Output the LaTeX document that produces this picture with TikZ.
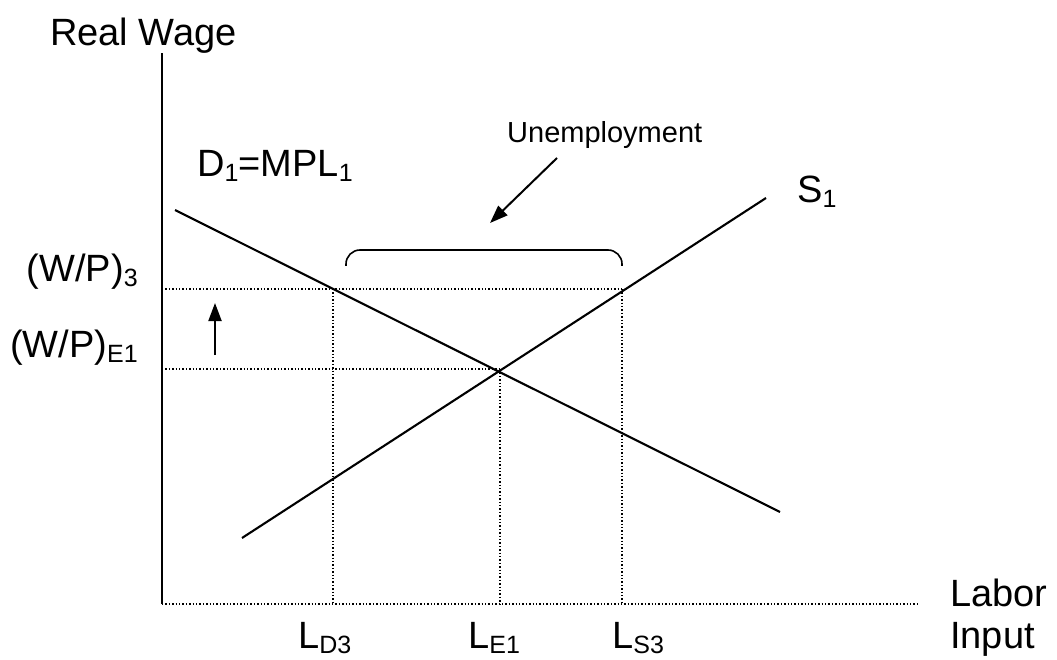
\documentclass[tikz,border=0pt]{standalone}
\usepackage{fontspec}
\setmainfont{Liberation Sans}
\usetikzlibrary{arrows.meta}
\newcommand{\lsub}[1]{\raisebox{-5pt}{\fontsize{25}{25}\selectfont #1}}

\begin{document}
\begin{tikzpicture}[
    x=1pt,
    y=-1pt,
    every node/.style={inner sep=0pt},
    axislabel/.style={font=\fontsize{38}{44}\selectfont},
    smalllabel/.style={font=\fontsize{29}{34}\selectfont},
    curve/.style={line width=2.1pt},
    guide/.style={dotted, line width=1.4pt},
    pointer/.style={-{Triangle[length=18pt,width=13pt]}, line width=2pt}
  ]
    \useasboundingbox (0,0) rectangle (1057,660);

    % Axes
    \coordinate (origin) at (162,604);
    \coordinate (ytop) at (162,53);
    \coordinate (xend) at (920,604);
    \draw[curve] (origin) -- (ytop);
    \draw[guide] (origin) -- (xend);

    % Demand and supply
    \coordinate (dstart) at (175,210);
    \coordinate (dend) at (780,512);
    \coordinate (sstart) at (242,538);
    \coordinate (send) at (766,198);
    \draw[curve] (dstart) -- (dend);
    \draw[curve] (sstart) -- (send);

    % Equilibrium and real wage above it
    \coordinate (eq) at (500,369);
    \coordinate (ld) at (333,289);
    \coordinate (ls) at (622,289);
    \coordinate (wthree) at (162,289);
    \coordinate (wone) at (162,369);
    \draw[guide] (wthree) -- (ls);
    \draw[guide] (wone) -- (eq);
    \draw[guide] (ld) -- (ld |- origin);
    \draw[guide] (eq) -- (eq |- origin);
    \draw[guide] (ls) -- (ls |- origin);

    % Axis labels
    \node[axislabel, anchor=base west] (ylab) at (50,46) {Real Wage};
    \node[axislabel, anchor=base west] (xlab) at (950,606) {Labor};
    \node[axislabel, anchor=base west] (xlabb) at (950,648) {Input};
    \node[axislabel, anchor=base east] (wp3) at (138,282) {(W/P)\lsub{3}};
    \node[axislabel, anchor=base east] (wpe) at (138,357) {(W/P)\lsub{E1}};
    \node[axislabel, anchor=base west] (ld3) at (298,648) {L\lsub{D3}};
    \node[axislabel, anchor=base west] (le1) at (468,648) {L\lsub{E1}};
    \node[axislabel, anchor=base west] (ls3) at (612,648) {L\lsub{S3}};

    % Curve labels
    \node[axislabel, anchor=base west] (dlab) at (197,177) {D\lsub{1}=MPL\lsub{1}};
    \node[axislabel, anchor=base west] (slab) at (797,203) {S\lsub{1}};

    % Wage rise arrow
    \coordinate (risefrom) at (215,355);
    \coordinate (riseto) at (215,303);
    \draw[pointer] (risefrom) -- (riseto);

    % Unemployment gap
    \node[smalllabel, anchor=base west] (unemp) at (507,143) {Unemployment};
    \coordinate (ufrom) at (557,158);
    \coordinate (uto) at (490,223);
    \draw[pointer] (ufrom) -- (uto);
    \draw[curve, line width=1.6pt, rounded corners=14pt] (346,266) -- (346,250) -- (622,250) -- (622,266);
  \end{tikzpicture}
\end{document}
